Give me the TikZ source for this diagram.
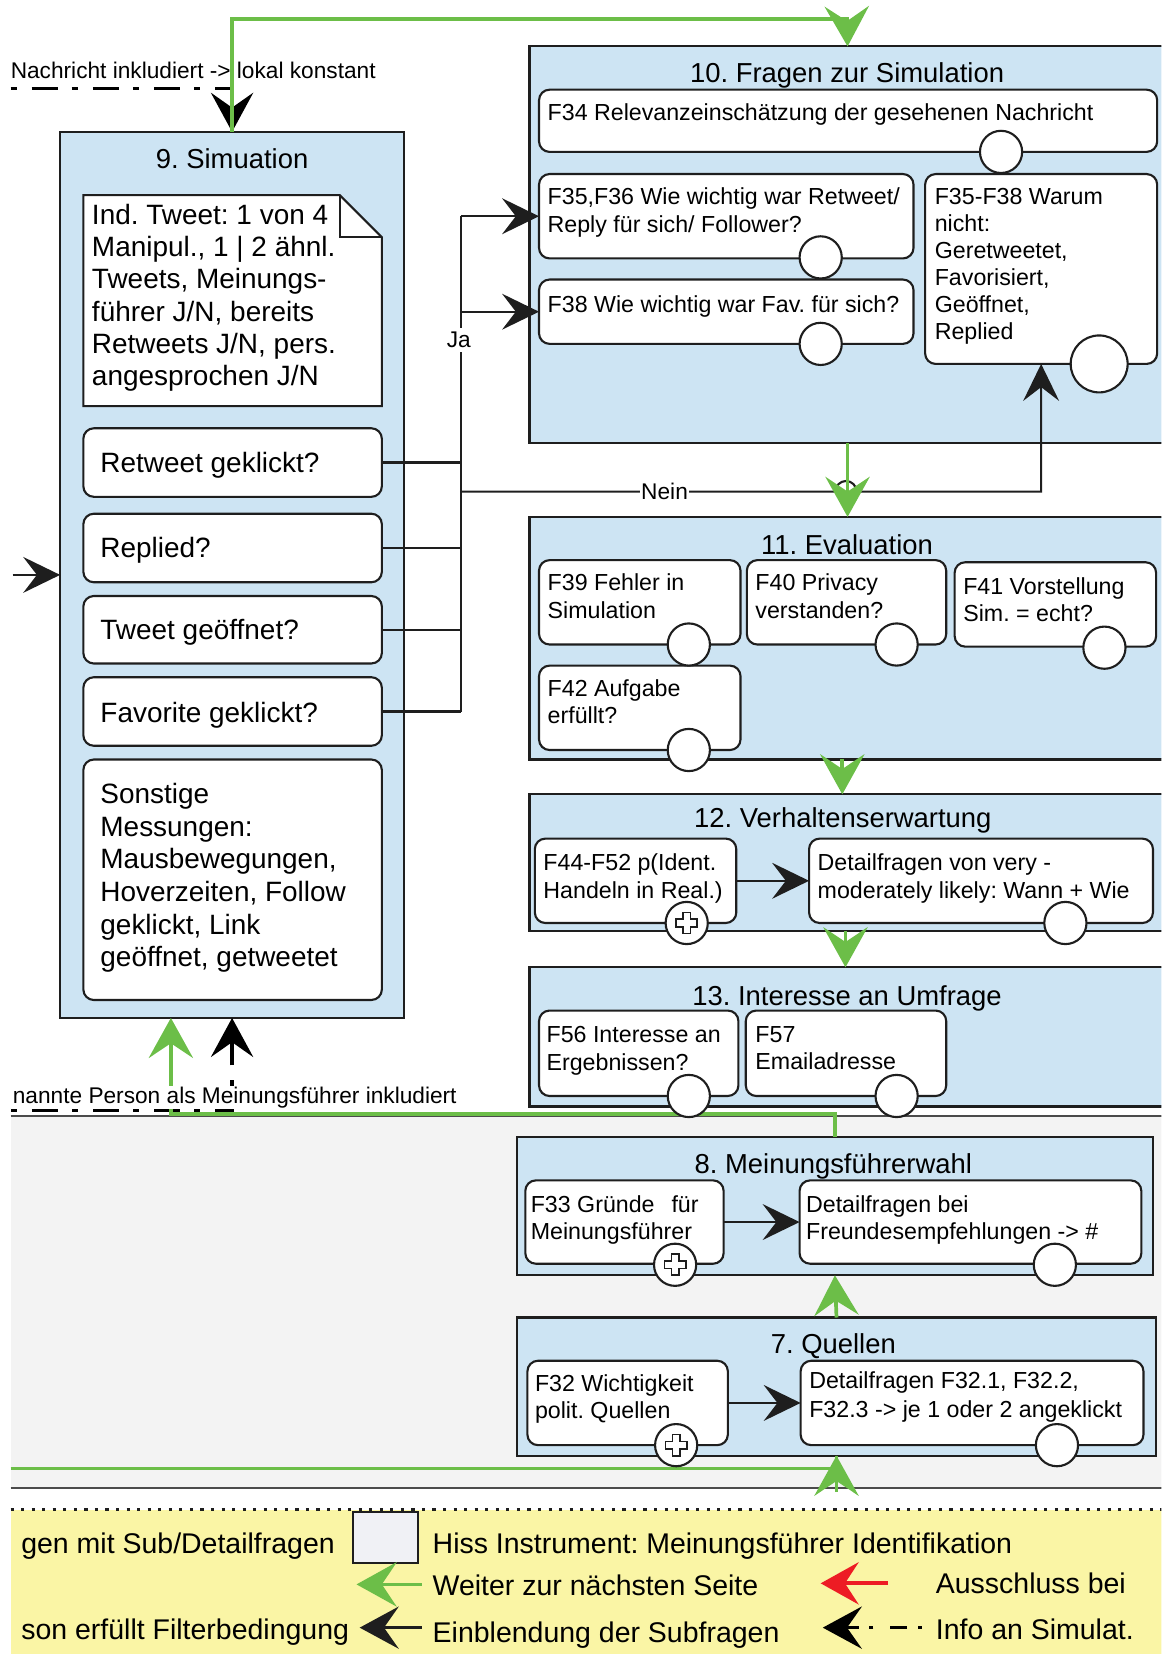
\documentclass[tikz,border=0pt]{standalone}
\usepackage{fontspec}
\setmainfont{Liberation Sans}
\usetikzlibrary{arrows.meta}
\frenchspacing

\definecolor{secblue}{RGB}{205,228,243}
\definecolor{flowgreen}{RGB}{108,190,72}
\definecolor{grayzone}{RGB}{243,243,243}
\definecolor{legyellow}{RGB}{250,245,165}
\definecolor{exred}{RGB}{237,28,36}
\definecolor{keygray}{RGB}{240,241,245}
\definecolor{ink}{RGB}{30,30,30}

% box from top-left (#3,#4) to bottom-right (#5,#6)
\newcommand{\mkbox}[6]{%
  \pgfmathsetmacro{\mkw}{#5-#3}%
  \pgfmathsetmacro{\mkh}{#6-#4}%
  \node[#1, anchor=north west, minimum width=\mkw pt, minimum height=\mkh pt,
        inner sep=0pt, outer sep=0pt] (#2) at (#3,#4) {};%
}
% outlined cross inside a sub-process marker
\newcommand{\pluscross}[1]{%
  \draw[ink, line width=1.6pt, shift={(#1.center)}]
    (-3.5,-10) -- (3.5,-10) -- (3.5,-3.5) -- (10,-3.5) -- (10,3.5) -- (3.5,3.5)
    -- (3.5,10) -- (-3.5,10) -- (-3.5,3.5) -- (-10,3.5) -- (-10,-3.5) -- (-3.5,-3.5) -- cycle;%
}

\begin{document}
\begin{tikzpicture}[x=1pt,y=-1pt,
  sect/.style={draw=ink, line width=2pt, fill=secblue},
  qbox/.style={draw=ink, line width=2pt, fill=white, rounded corners=10pt},
  endc/.style={circle, draw=ink, line width=2pt, fill=white, minimum size=40pt, inner sep=0pt},
  ttl/.style={font=\fontsize{26}{30}\selectfont, inner sep=0pt, anchor=base},
  bigtxt/.style={font=\fontsize{26.5}{30.6}\selectfont, inner sep=0pt, align=left},
  smalltxt/.style={font=\fontsize{22}{26}\selectfont, inner sep=0pt, align=left},
  lbl/.style={font=\fontsize{21.5}{25}\selectfont, inner sep=2pt},
  leg/.style={font=\fontsize{27}{30}\selectfont, inner sep=0pt, anchor=base west},
  conn/.style={draw=ink, line width=2pt},
  subarrow/.style={conn, -{Stealth[length=35pt,width=34pt,inset=13pt]}},
  greenline/.style={draw=flowgreen, line width=3.5pt},
  greenarrow/.style={greenline, -{Stealth[length=38pt,width=42pt,inset=14pt]}},
  infoline/.style={draw=black, line width=3.5pt, dash pattern=on 6pt off 14pt on 25pt off 13pt},
  infoarrow/.style={infoline, -{Stealth[length=37pt,width=40pt,inset=14pt]}},
]
\useasboundingbox (0,0) rectangle (1101,1568);
\clip (0,0) rectangle (1101,1568);

% ---------- background zones ----------
\fill[grayzone] (10,1058) rectangle (1110,1411);
\draw[ink!80, line width=2pt] (10,1058) -- (1110,1058);
\draw[ink!80, line width=2pt] (10,1411) -- (1110,1411);
\fill[legyellow] (10,1431) rectangle (1110,1570);
\draw[ink, line width=2.5pt, dash pattern=on 3pt off 7pt] (10,1431) -- (1110,1431);

% ---------- sections ----------
\mkbox{sect}{sec9}{57}{125}{383}{965}
\mkbox{sect}{sec10}{502}{44}{1105}{420}
\mkbox{sect}{sec11}{502}{490}{1105}{720}
\mkbox{sect}{sec12}{502}{753}{1105}{883}
\mkbox{sect}{sec13}{502}{917}{1105}{1049}
\mkbox{sect}{sec8}{490}{1078}{1093}{1209}
\mkbox{sect}{sec7}{490}{1249}{1096}{1380}

\node[ttl] (t9)  at (220,159.4) {9. Simuation};
\node[ttl] (t10) at (803,78.4) {10. Fragen zur Simulation};
\node[ttl] (t11) at (803,525.5) {11. Evaluation};
\node[ttl] (t12) at (799,784) {12. Verhaltenserwartung};
\node[ttl] (t13) at (803,953) {13. Interesse an Umfrage};
\node[ttl] (t8)  at (790,1112.5) {8. Meinungsführerwahl};
\node[ttl] (t7)  at (790,1283.5) {7. Quellen};

% ---------- 9. Simulation ----------
\draw[ink, line width=2pt, fill=white] (79,185) -- (322,185) -- (362,225) -- (362,385) -- (79,385) -- cycle;
\draw[ink, line width=2pt] (322,185) -- (322,225) -- (362,225);
\node[bigtxt, anchor=north west] (note) at (87,193.2)
  {Ind. Tweet: 1 von 4\\Manipul., 1 | 2 ähnl.\\Tweets, Meinungs-\\führer J/N, bereits\\Retweets J/N, pers.\\angesprochen J/N};

\mkbox{qbox}{rt}{79}{406}{362}{471}
\mkbox{qbox}{rp}{79}{487}{362}{552}
\mkbox{qbox}{tg}{79}{565}{362}{629}
\mkbox{qbox}{fv}{79}{642}{362}{707}
\mkbox{qbox}{so}{79}{720}{362}{948}
\node[bigtxt, anchor=base west] (rtt) at (95,447.5) {Retweet geklickt?};
\node[bigtxt, anchor=base west] (rpt) at (95,528.5) {Replied?};
\node[bigtxt, anchor=base west] (tgt) at (95,606.5) {Tweet geöffnet?};
\node[bigtxt, anchor=base west] (fvt) at (95,684.5) {Favorite geklickt?};
\node[bigtxt, anchor=north west, font=\fontsize{26.5}{31}\selectfont] (sot) at (95,742.2)
  {Sonstige\\Messungen:\\Mausbewegungen,\\Hoverzeiten, Follow\\geklickt, Link\\geöffnet, getweetet};

% ---------- 10. Fragen zur Simulation ----------
\mkbox{qbox}{f34}{511}{85}{1097}{144}
\mkbox{qbox}{f35}{511}{165}{866}{245}
\mkbox{qbox}{f38}{511}{265}{866}{326}
\mkbox{qbox}{wn}{877}{165}{1097}{345}
\node[smalltxt, anchor=base west] (f34t) at (519,114) {F34 Relevanzeinschätzung der gesehenen Nachricht};
\node[smalltxt, anchor=north west] (f35t) at (519,178) {F35,F36 Wie wichtig war Retweet/\\Reply für sich/ Follower?};
\node[smalltxt, anchor=base west] (f38t) at (519,296) {F38 Wie wichtig war Fav. für sich?};
\node[smalltxt, anchor=north west, font=\fontsize{22}{25.6}\selectfont] (wnt) at (886,178)
  {F35-F38 Warum\\nicht:\\Geretweetet,\\Favorisiert,\\Geöffnet,\\Replied};

% ---------- 11. Evaluation ----------
\mkbox{qbox}{f39}{511}{531}{702}{611}
\mkbox{qbox}{f40}{708}{531}{897}{611}
\mkbox{qbox}{f41}{905}{533}{1096}{613}
\mkbox{qbox}{f42}{511}{631}{702}{711}
\node[smalltxt, anchor=north west] (f39t) at (519,544) {F39 Fehler in\\Simulation};
\node[smalltxt, anchor=north west] (f40t) at (716,544) {F40 Privacy\\verstanden?};
\node[smalltxt, anchor=north west] (f41t) at (913,547) {F41 Vorstellung\\Sim. = echt?};
\node[smalltxt, anchor=north west] (f42t) at (519,644) {F42 Aufgabe\\erfüllt?};

% ---------- 12. Verhaltenserwartung ----------
\mkbox{qbox}{f44}{507}{795}{698}{875}
\mkbox{qbox}{d12}{767}{795}{1093}{875}
\node[smalltxt, anchor=north west, font=\fontsize{22}{27}\selectfont] (f44t) at (515,809) {F44-F52 p(Ident.\\Handeln in Real.)};
\node[smalltxt, anchor=north west, font=\fontsize{22}{27}\selectfont] (d12t) at (775,809) {Detailfragen von very -\\moderately likely: Wann + Wie};

% ---------- 13. Interesse an Umfrage ----------
\mkbox{qbox}{f56}{511}{958}{700}{1039}
\mkbox{qbox}{f57}{707}{958}{897}{1039}
\node[smalltxt, anchor=north west] (f56t) at (518,973) {F56 Interesse an\\Ergebnissen?};
\node[smalltxt, anchor=north west] (f57t) at (716,973) {F57\\Emailadresse};

% ---------- 8. Meinungsführerwahl ----------
\mkbox{qbox}{f33}{498}{1119}{686}{1198}
\mkbox{qbox}{d8}{758}{1119}{1082}{1198}
\node[smalltxt, anchor=north west] (f33t) at (503,1133) {F33 Gründe\hspace{16pt}für\\Meinungsführer};
\node[smalltxt, anchor=north west] (d8t) at (764,1133) {Detailfragen bei\\Freundesempfehlungen -> \#};

% ---------- 7. Quellen ----------
\mkbox{qbox}{f32}{500}{1290}{690}{1370}
\mkbox{qbox}{d7}{759}{1290}{1084}{1370}
\node[smalltxt, anchor=north west] (f32t) at (507,1303) {F32 Wichtigkeit\\polit. Quellen};
\node[smalltxt, anchor=north west, font=\fontsize{22}{28}\selectfont] (d7t) at (767,1300) {Detailfragen F32.1, F32.2,\\F32.3 -> je 1 oder 2 angeklickt};

% ---------- filter connectors ----------
\coordinate (jx) at (437,0);
\draw[conn] (rt.east) -- (rt.east -| jx);
\draw[conn] (rp.east) -- (rp.east -| jx);
\draw[conn] (tg.east) -- (tg.east -| jx);
\draw[conn] (fv.east) -- (fv.east -| jx);
\draw[conn] (f35.west -| jx) -- (fv.east -| jx);
\draw[subarrow] (f35.west -| jx) -- (f35.west);
\draw[subarrow] (f38.west -| jx) -- (f38.west);
\node[lbl, fill=white, inner xsep=1pt, inner ysep=4pt] (ja) at (435,322) {Ja};

\coordinate (nein0) at (437,466);
\draw[subarrow] (nein0) -- (792,466) arc[start angle=180, end angle=360, radius=10]
  -- (wn.south |- nein0) -- (wn.south);
\node[lbl, fill=white, inner xsep=1pt, inner ysep=1pt] (nein) at (630,466) {Nein};

\coordinate (inleft) at (12,545);
\draw[subarrow] (inleft) -- (inleft -| sec9.west);

\draw[subarrow] (f44.east) -- (d12.west);
\draw[subarrow] (f33.east) -- (d8.west);
\draw[subarrow] (f32.east) -- (d7.west);

% ---------- info to simulation (dash-dot) ----------
\node[lbl, anchor=base west, inner sep=0pt] (infotop) at (10,74.6) {Nachricht inkludiert -> lokal konstant};
\coordinate (dd1) at (10,84);
\draw[infoarrow] (dd1) -| (sec9.north);
\coordinate (dd2) at (10,1052);
\draw[infoarrow] (dd2) -| (sec9.south);

% ---------- page flow (green) ----------
\coordinate (gtop) at (803,18);
\draw[greenarrow] (sec9.north) |- (gtop) -- (sec10.north);
\draw[greenarrow] (sec10.south) -- (sec11.north);
\draw[greenarrow] ([xshift=-5pt]sec11.south) -- ([xshift=-5pt]sec12.north);
\draw[greenarrow] ([xshift=-2pt]sec12.south) -- ([xshift=-2pt]sec13.north);
\coordinate (g89) at (162,1056);
\draw[greenarrow] (sec8.north) |- (g89) -- ([xshift=-58pt]sec9.south);
\draw[greenarrow] (sec7.north) -- (sec8.south);
\coordinate (g7) at (10,1392);
\draw[greenline] (g7) -| (sec7.south);
\draw[greenarrow] ([yshift=-34pt]sec7.south) -- (sec7.south);

\node[lbl, anchor=base west, fill=white, inner xsep=2pt, inner ysep=0.5pt] (infobot) at (10,1046)
  {nannte Person als Meinungsführer inkludiert};

% ---------- end markers ----------
\node[endc] (f34c) at (949,144) {};
\node[endc] (f35c) at (778,244) {};
\node[endc] (f38c) at (778,326) {};
\node[endc, minimum size=54pt] (wnc) at (1042,345) {};
\node[endc] (f39c) at (653,611) {};
\node[endc] (f40c) at (850,611) {};
\node[endc] (f41c) at (1047,614) {};
\node[endc] (f42c) at (653,711) {};
\node[endc] (f44c) at (651,875) {}; \pluscross{f44c}
\node[endc] (d12c) at (1010,875) {};
\node[endc] (f56c) at (653,1039) {};
\node[endc] (f57c) at (850,1039) {};
\node[endc] (f33c) at (640,1199) {}; \pluscross{f33c}
\node[endc] (d8c) at (1000,1199) {};
\node[endc] (f32c) at (641,1370) {}; \pluscross{f32c}
\node[endc] (d7c) at (1002,1370) {};

% ---------- legend ----------
\node[draw=ink, line width=2pt, fill=keygray, anchor=north west, minimum width=61pt,
      minimum height=49pt, inner sep=0pt, outer sep=0pt] (key) at (335,1433) {};
\node[leg] (l1) at (20,1472.5) {gen mit Sub/Detailfragen};
\node[leg] (l2) at (410,1472.5) {Hiss Instrument: Meinungsführer Identifikation};
\node[leg] (l3) at (410,1512.5) {Weiter zur nächsten Seite};
\node[leg] (l4) at (887,1510.5) {Ausschluss bei};
\node[leg] (l5) at (20,1554.5) {son erfüllt Filterbedingung};
\node[leg] (l6) at (410,1557.5) {Einblendung der Subfragen};
\node[leg] (l7) at (887,1554.5) {Info an Simulat.};

\coordinate (kg0) at (400,1502); \coordinate (kg1) at (338,1502);
\draw[greenarrow] (kg0) -- (kg1);
\coordinate (kb0) at (400,1543); \coordinate (kb1) at (341,1543);
\draw[conn, line width=3pt, -{Stealth[length=37pt,width=40pt,inset=14pt]}] (kb0) -- (kb1);
\coordinate (kr0) at (842,1501); \coordinate (kr1) at (778,1501);
\draw[draw=exred, line width=3.5pt, -{Stealth[length=36pt,width=40pt,inset=13pt]}] (kr0) -- (kr1);
\coordinate (ki0) at (874,1543); \coordinate (ki1) at (780,1543);
\draw[infoarrow, dash pattern=on 4pt off 10pt on 16pt off 16pt] (ki0) -- (ki1);
\end{tikzpicture}
\end{document}
